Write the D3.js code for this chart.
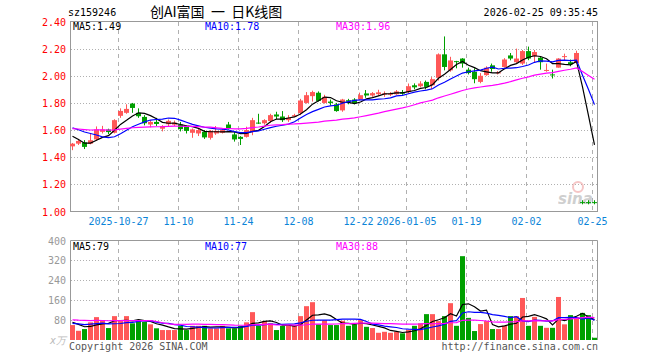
<!DOCTYPE html>
<html><head><meta charset="utf-8">
<script src="https://cdn.jsdelivr.net/npm/d3@7/dist/d3.min.js"></script>
<style>
body{margin:0;background:#fff}
svg{display:block}
text{font-family:"DejaVu Sans Mono",monospace;font-size:10px}
</style>
</head><body>
<svg id="c" width="660" height="360"></svg>
<script>
const dates = [
"2025-10-15","2025-10-16","2025-10-17","2025-10-20","2025-10-21","2025-10-22","2025-10-23","2025-10-24","2025-10-27","2025-10-28","2025-10-29","2025-10-30","2025-10-31",
"2025-11-03","2025-11-04","2025-11-05","2025-11-06","2025-11-07","2025-11-10","2025-11-11","2025-11-12","2025-11-13","2025-11-14","2025-11-17","2025-11-18","2025-11-19","2025-11-20","2025-11-21","2025-11-24","2025-11-25","2025-11-26","2025-11-27","2025-11-28",
"2025-12-01","2025-12-02","2025-12-03","2025-12-04","2025-12-05","2025-12-08","2025-12-09","2025-12-10","2025-12-11","2025-12-12","2025-12-15","2025-12-16","2025-12-17","2025-12-18","2025-12-19","2025-12-22","2025-12-23","2025-12-24","2025-12-25","2025-12-26","2025-12-29","2025-12-30","2025-12-31",
"2026-01-05","2026-01-06","2026-01-07","2026-01-08","2026-01-09","2026-01-12","2026-01-13","2026-01-14","2026-01-15","2026-01-16","2026-01-19","2026-01-20","2026-01-21","2026-01-22","2026-01-23","2026-01-26","2026-01-27","2026-01-28","2026-01-29","2026-01-30",
"2026-02-02","2026-02-03","2026-02-04","2026-02-05","2026-02-06","2026-02-09","2026-02-10","2026-02-11","2026-02-12","2026-02-13","2026-02-24","2026-02-25"];

const opens = [1.48,1.50,1.509,1.50,1.531,1.587,1.604,1.58,1.705,1.727,1.795,1.727,1.697,1.641,1.66,1.61,1.643,1.64,1.641,1.625,1.58,1.575,1.587,1.543,1.575,1.58,1.641,1.568,1.55,1.55,1.587,1.655,1.65,1.667,1.715,1.70,1.673,1.70,1.725,1.80,1.85,1.875,1.80,1.81,1.79,1.745,1.82,1.825,1.827,1.87,1.855,1.865,1.862,1.86,1.864,1.88,1.88,1.93,1.923,1.955,1.93,1.985,2.158,2.04,2.108,2.127,2.045,2.03,1.955,2.005,2.077,2.02,2.065,2.15,2.10,2.09,2.182,2.143,2.133,2.04,2.01,2.06,2.14,2.10,2.094,1.069,1.069,1.069];
const highs = [1.505,1.535,1.526,1.575,1.627,1.631,1.61,1.68,1.76,1.79,1.80,1.76,1.71,1.672,1.69,1.636,1.678,1.67,1.66,1.635,1.612,1.615,1.60,1.60,1.63,1.61,1.66,1.585,1.555,1.625,1.69,1.72,1.68,1.72,1.735,1.74,1.71,1.72,1.83,1.88,1.89,1.885,1.86,1.825,1.80,1.83,1.83,1.835,1.876,1.895,1.88,1.897,1.885,1.88,1.895,1.895,1.943,1.944,1.96,1.965,1.99,2.165,2.29,2.14,2.11,2.13,2.06,2.055,2.02,2.07,2.09,2.035,2.13,2.168,2.20,2.19,2.215,2.19,2.145,2.09,2.045,2.13,2.163,2.12,2.185,1.083,1.083,1.083];
const lows = [1.452,1.49,1.46,1.495,1.52,1.575,1.57,1.575,1.69,1.72,1.727,1.69,1.635,1.62,1.63,1.59,1.625,1.63,1.59,1.575,1.543,1.556,1.535,1.53,1.565,1.575,1.604,1.515,1.49,1.545,1.562,1.645,1.64,1.653,1.68,1.66,1.66,1.695,1.71,1.795,1.81,1.81,1.795,1.78,1.735,1.735,1.79,1.79,1.82,1.838,1.845,1.855,1.845,1.85,1.86,1.86,1.869,1.90,1.915,1.90,1.90,1.965,2.04,2.03,2.055,2.06,2.01,1.945,1.945,2.00,2.03,2.01,2.06,2.114,2.09,2.08,2.115,2.10,2.045,2.03,1.98,2.06,2.115,2.07,2.09,1.053,1.053,1.053];
const closes = [1.50,1.52,1.476,1.525,1.605,1.604,1.585,1.673,1.741,1.756,1.763,1.702,1.65,1.66,1.645,1.629,1.668,1.655,1.607,1.594,1.605,1.60,1.546,1.594,1.594,1.60,1.612,1.531,1.535,1.60,1.673,1.65,1.673,1.71,1.70,1.673,1.69,1.71,1.818,1.857,1.88,1.815,1.845,1.80,1.74,1.825,1.81,1.80,1.857,1.855,1.872,1.878,1.87,1.868,1.885,1.868,1.923,1.915,1.943,1.918,1.975,2.158,2.065,2.113,2.102,2.09,2.02,1.975,2.0,2.06,2.05,2.025,2.12,2.127,2.127,2.182,2.127,2.175,2.10,2.043,2.005,2.127,2.145,2.085,2.168,1.068,1.068,1.068];
const volumes = [60,37,44,71,92,80,48,96,76,96,67,76,73,63,47,40,40,40,57,40,57,57,57,47,47,57,47,47,57,71,112,57,76,67,40,57,57,57,96,136,152,63,79,60,60,77,57,63,80,53,48,29,33,29,33,27,40,57,67,104,104,76,96,148,57,337,89,36,64,76,44,44,57,96,96,169,57,93,57,49,49,173,63,100,91,109,100,9];

// closes / volumes of the 29 sessions before the window (needed for the moving averages drawn from the first candle)
const priorCloses = [1.58,1.60,1.62,1.59,1.61,1.63,1.60,1.58,1.61,1.62,1.60,1.59,1.61,1.63,1.62,1.60,1.61,1.62,1.61,1.61,1.66,1.64,1.631,1.72,1.734,1.64,1.615,1.52,1.50];
const priorVolumes = [85,72,90,68,95,78,82,70,88,75,80,72,70,150,190,180,90,50,45,42,58,70,55,66,65,77,91,65,60];

const priceTicks = [2.40,2.20,2.00,1.80,1.60,1.40,1.20,1.00];
const volTicks = [400,320,240,160,80];
const dateTicks = ["2025-10-27","2025-11-10","2025-11-24","2025-12-08","2025-12-22","2026-01-05","2026-01-19","2026-02-02","2026-02-25"];
const dateTickLabels = ["2025-10-27","11-10","11-24","12-08","12-22","2026-01-05","01-19","02-02","02-25"];
const maPeriods = [5,10,30];
const maColors = ["#000000","#0000ff","#ff00ff"];
const priceMaLabels = ["1.49","1.78","1.96"];
const volMaLabels = ["79","77","88"];

const RED = "#ff5858", GREEN = "#00a000", GRID = "#b0b0b0", FRAME = "#999999";
const svg = d3.select("#c");

const x = d3.scaleLinear().domain([0, dates.length]).range([70, 598]);
const y = d3.scaleLinear().domain([1.0, 2.4]).range([211.5, 21.5]);
const vy = d3.scaleLinear().domain([0, 400]).range([340, 240.5]);
const cx = i => x(i) + 2.5;

function ma(series, prior, n) {
  const all = prior.concat(series), off = prior.length;
  return series.map((_, i) => d3.mean(all.slice(i + off - n + 1, i + off + 1)));
}

// header
svg.append("text").attr("x", 68).attr("y", 16).attr("fill", "#000").text("sz159246");
svg.append("text").attr("x", 150).attr("y", 17).attr("fill", "#000").attr("xml:space", "preserve")
  .style("white-space", "pre")
  .style("font-family", "'Noto Sans CJK SC',sans-serif").style("font-size", "14px").text("创AI富国 \u00a0一\u00a0 日K线图");
svg.append("text").attr("x", 598).attr("y", 16).attr("text-anchor", "end").attr("fill", "#000").text("2026-02-25 09:35:45");

// ---------- price panel ----------
const gP = svg.append("g");
priceTicks.forEach(t => {
  const yy = Math.round(y(t)) + 0.5;
  if (t < 2.4 && t > 1.0)
    gP.append("line").attr("x1", 71).attr("x2", 597).attr("y1", yy).attr("y2", yy)
      .attr("stroke", GRID).attr("stroke-dasharray", "1,2");
  gP.append("text").attr("x", 66).attr("y", yy + 3.5).attr("text-anchor", "end").attr("fill", "#ff0000").text(t.toFixed(2));
});
dateTicks.forEach((d, k) => {
  const i = dates.indexOf(d);
  const xx = Math.round(x(i)) + 0.5;
  gP.append("line").attr("x1", xx).attr("x2", xx).attr("y1", 22).attr("y2", 211)
    .attr("stroke", GRID).attr("stroke-dasharray", "4,4");
  svg.append("line").attr("x1", xx).attr("x2", xx).attr("y1", 241).attr("y2", 340)
    .attr("stroke", GRID).attr("stroke-dasharray", "4,4");
  gP.append("text").attr("x", xx).attr("y", 225).attr("text-anchor", "middle").attr("fill", "#0b84d8").text(dateTickLabels[k]);
});
gP.append("rect").attr("x", 70.5).attr("y", 21.5).attr("width", 527).attr("height", 190)
  .attr("fill", "none").attr("stroke", FRAME);

// watermark
const wm = svg.append("g").attr("opacity", 0.6);
wm.append("circle").attr("cx", 578).attr("cy", 187).attr("r", 5).attr("fill", "none").attr("stroke", "#f0a0a0").attr("stroke-width", 2);
wm.append("text").attr("x", 558).attr("y", 204).attr("fill", "#b0b0b0")
  .style("font-family", "'DejaVu Sans',sans-serif").style("font-size", "15px").style("font-weight", "bold").style("font-style", "italic").text("sina");

// candles
const cg = svg.append("g");
dates.forEach((d, i) => {
  const up = closes[i] >= opens[i];
  const col = up ? RED : GREEN;
  const xc = Math.round(cx(i)) + 0.5 - 1;
  cg.append("line").attr("x1", xc).attr("x2", xc).attr("y1", y(highs[i])).attr("y2", y(lows[i])).attr("stroke", col);
  const top = y(Math.max(opens[i], closes[i])), bot = y(Math.min(opens[i], closes[i]));
  cg.append("rect").attr("x", x(i)).attr("width", 5).attr("y", top).attr("height", Math.max(1, bot - top)).attr("fill", col);
});

// price MAs
maPeriods.forEach((n, k) => {
  const vals = ma(closes, priorCloses, n);
  svg.append("path").datum(vals)
    .attr("d", d3.line().x((v, i) => cx(i)).y(v => y(v)))
    .attr("fill", "none").attr("stroke", maColors[k]).attr("stroke-width", 1.2);
});
const lx = [73, 205, 336];
maPeriods.forEach((n, k) => {
  svg.append("text").attr("x", lx[k]).attr("y", 30).attr("fill", maColors[k]).text("MA" + n + ":" + priceMaLabels[k]);
});

// ---------- volume panel ----------
volTicks.forEach(t => {
  const yy = Math.round(vy(t)) + 0.5;
  if (t < 400)
    svg.append("line").attr("x1", 71).attr("x2", 597).attr("y1", yy).attr("y2", yy)
      .attr("stroke", GRID).attr("stroke-dasharray", "1,2");
  svg.append("text").attr("x", 66).attr("y", yy + 3.5).attr("text-anchor", "end").attr("fill", "#999").text(t);
});
svg.append("text").attr("x", 66).attr("y", 344).attr("text-anchor", "end").attr("fill", "#bbb")
  .style("font-style", "italic").text("x万");
svg.append("path").attr("d", "M70.5,340V240.5H597.5V340").attr("fill", "none").attr("stroke", FRAME);

const vg = svg.append("g");
dates.forEach((d, i) => {
  const col = closes[i] >= opens[i] ? RED : GREEN;
  vg.append("rect").attr("x", x(i)).attr("width", 5).attr("y", vy(volumes[i])).attr("height", 340 - vy(volumes[i])).attr("fill", col);
});
maPeriods.forEach((n, k) => {
  const vals = ma(volumes, priorVolumes, n);
  svg.append("path").datum(vals)
    .attr("d", d3.line().x((v, i) => cx(i)).y(v => vy(v)))
    .attr("fill", "none").attr("stroke", maColors[k]).attr("stroke-width", 1.2);
  svg.append("text").attr("x", lx[k]).attr("y", 250).attr("fill", maColors[k]).text("MA" + n + ":" + volMaLabels[k]);
});

// footer
svg.append("text").attr("x", 69).attr("y", 350).attr("fill", "#555").text("Copyright 2026 SINA.COM");
svg.append("text").attr("x", 598).attr("y", 350).attr("text-anchor", "end").attr("fill", "#555").text("http://finance.sina.com.cn");
</script>
</body></html>
